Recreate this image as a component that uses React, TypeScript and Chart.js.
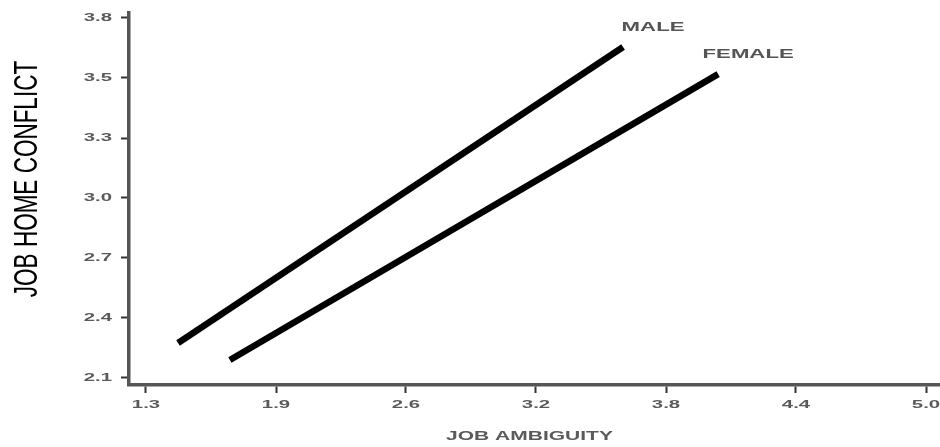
import React, { useEffect, useRef } from "react";
import { Chart, registerables } from "chart.js";

Chart.register(...registerables);

// ---- data ----
const seriesNames = ["MALE", "FEMALE"];
const maleX = [1.452, 3.563];
const maleY = [2.265, 3.663];
const femaleX = [1.698, 4.014];
const femaleY = [2.185, 3.535];

const xTickValues = [1.3, 1.9167, 2.5333, 3.15, 3.7667, 4.3833, 5.0];
const xTickLabels = ["1.3", "1.9", "2.6", "3.2", "3.8", "4.4", "5.0"];
const yTickValues = [2.1, 2.3833, 2.6667, 2.95, 3.2333, 3.5167, 3.8];
const yTickLabels = ["2.1", "2.4", "2.7", "3.0", "3.3", "3.5", "3.8"];

const xTitle = "JOB AMBIGUITY";
const yTitle = "JOB HOME CONFLICT";

const FONT = '"Liberation Sans", Arial, sans-serif';
const STRETCH = 1.85;

function drawStretched(
  ctx: CanvasRenderingContext2D,
  text: string,
  x: number,
  y: number,
  sx: number,
  font: string,
  color: string,
  align: CanvasTextAlign
) {
  ctx.save();
  ctx.translate(x, y);
  ctx.scale(sx, 1);
  ctx.font = font;
  ctx.fillStyle = color;
  ctx.textAlign = align;
  ctx.textBaseline = "middle";
  ctx.fillText(text, 0, 0);
  ctx.restore();
}

const textPlugin = {
  id: "textPlugin",
  afterDraw(chart: any) {
    const ctx: CanvasRenderingContext2D = chart.ctx;
    const xs = chart.scales.x;
    const ys = chart.scales.y;
    const area = chart.chartArea;

    // y tick labels
    yTickValues.forEach((v, i) => {
      const py = ys.getPixelForValue(v);
      drawStretched(ctx, yTickLabels[i], area.left - 17, py, STRETCH, `bold 11px ${FONT}`, "#5a5a5a", "right");
    });
    // x tick labels
    xTickValues.forEach((v, i) => {
      const px = xs.getPixelForValue(v);
      drawStretched(ctx, xTickLabels[i], px, area.bottom + 20, STRETCH, `bold 11px ${FONT}`, "#5a5a5a", "center");
    });

    // x title
    drawStretched(ctx, xTitle, (area.left + area.right) / 2 - 5, area.bottom + 52, 1.75, `bold 12px ${FONT}`, "#5a5a5a", "center");

    // y title (rotated, stretched horizontally on screen)
    ctx.save();
    ctx.translate(28, (area.top + area.bottom) / 2 - 20);
    ctx.scale(1.5, 1);
    ctx.rotate(-Math.PI / 2);
    ctx.font = `22.5px ${FONT}`;
    ctx.fillStyle = "#000";
    ctx.textAlign = "center";
    ctx.textBaseline = "middle";
    ctx.fillText(yTitle, 0, 0);
    ctx.restore();

    // series labels near line ends
    chart.data.datasets.forEach((ds: any, i: number) => {
      const last = ds.data[ds.data.length - 1];
      const px = xs.getPixelForValue(last.x);
      const py = ys.getPixelForValue(last.y);
      drawStretched(ctx, seriesNames[i], px + 30, py - 19, STRETCH, `bold 12px ${FONT}`, "#555", "center");
    });
  },
};

export default function App() {
  const ref = useRef<HTMLCanvasElement | null>(null);

  useEffect(() => {
    if (!ref.current) return;
    const toPts = (xs: number[], ys: number[]) => xs.map((x, i) => ({ x, y: ys[i] }));

    const axisCommon = {
      type: "linear" as const,
      grid: {
        display: true,
        drawOnChartArea: false,
        drawTicks: true,
        tickLength: 8,
        tickColor: "#333",
        tickWidth: 2,
      },
      border: { display: true, color: "#555", width: 3.5 },
      ticks: { display: false },
      title: { display: false },
    };

    const chart = new Chart(ref.current, {
      type: "scatter",
      data: {
        datasets: [
          {
            label: seriesNames[0],
            data: toPts(maleX, maleY),
            showLine: true,
            borderColor: "#000",
            borderWidth: 6.5,
            pointRadius: 0,
          },
          {
            label: seriesNames[1],
            data: toPts(femaleX, femaleY),
            showLine: true,
            borderColor: "#000",
            borderWidth: 6.5,
            pointRadius: 0,
          },
        ],
      },
      options: {
        responsive: false,
        animation: false,
        layout: { padding: { top: 13, right: 0, left: 0, bottom: 0 } },
        plugins: { legend: { display: false }, tooltip: { enabled: false } },
        scales: {
          x: {
            ...axisCommon,
            min: 1.2194,
            max: 5.0664,
            afterBuildTicks: (s: any) => {
              s.ticks = xTickValues.map((v) => ({ value: v }));
            },
            afterFit: (s: any) => {
              s.height = 62;
            },
          },
          y: {
            ...axisCommon,
            min: 2.0669,
            max: 3.8236,
            afterBuildTicks: (s: any) => {
              s.ticks = yTickValues.map((v) => ({ value: v }));
            },
            afterFit: (s: any) => {
              s.width = 129;
            },
          },
        },
      } as any,
      plugins: [textPlugin],
    });
    return () => chart.destroy();
  }, []);

  return (
    <div style={{ position: "absolute", left: 0, top: 0, width: 940, height: 447, background: "#fff" }}>
      <canvas ref={ref} width={940} height={447} />
    </div>
  );
}
